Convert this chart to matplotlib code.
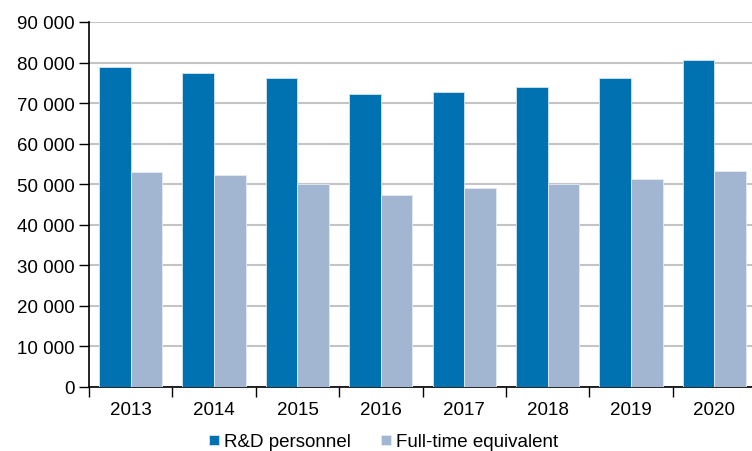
import matplotlib
matplotlib.use("Agg")
import matplotlib.pyplot as plt
import numpy as np
from matplotlib.ticker import FuncFormatter, MultipleLocator

plt.rcParams['font.family'] = ['Liberation Sans', 'DejaVu Sans']

years = ["2013", "2014", "2015", "2016", "2017", "2018", "2019", "2020"]
rd_personnel = [79000, 77500, 76300, 72300, 72700, 73900, 76300, 80600]
full_time_eq = [53000, 52200, 50100, 47400, 49000, 50000, 51400, 53300]

c_dark = "#0071B1"
c_light = "#A2B6D1"
fs = 13.5

fig = plt.figure(figsize=(7.52, 4.52), dpi=100)
ax = fig.add_axes([89/752, (452-388)/452, (756-89)/752, (388-23)/452])

x = np.arange(len(years))
w = 0.38
ax.bar(x - w/2, rd_personnel, w, color=c_dark, edgecolor="#D6E4F0", linewidth=0.6, label="R&D personnel", zorder=3)
ax.bar(x + w/2, full_time_eq, w, color=c_light, edgecolor="#E4EAF2", linewidth=0.6, label="Full-time equivalent", zorder=3)

ax.set_xlim(-0.5, len(years) - 0.5)
ax.set_ylim(0, 90000)
ax.yaxis.set_major_locator(MultipleLocator(10000))
ax.yaxis.set_major_formatter(FuncFormatter(lambda v, p: f"{int(v):,}".replace(",", " ")))
ax.grid(axis="y", color="#C4C4C4", linewidth=1.5, zorder=0)
ax.set_axisbelow(True)

ax.set_xticks(x)
ax.set_xticklabels(years)
ax.set_xticks(np.arange(-0.5, len(years) + 0.5, 1), minor=True)
ax.tick_params(axis="x", which="major", length=0, pad=10, labelsize=fs)
ax.tick_params(axis="x", which="minor", length=7, width=1, direction="out")
ax.tick_params(axis="y", length=7, width=1, direction="out", labelsize=fs, pad=3)

for s in ["top", "right"]:
    ax.spines[s].set_visible(False)
ax.spines["left"].set_linewidth(1.2)
ax.spines["bottom"].set_linewidth(1.2)

leg = fig.legend(loc="center", bbox_to_anchor=(384/752, 1 - 443/452), ncol=2, frameon=False,
                 fontsize=fs, handlelength=0.5, handleheight=0.5, handletextpad=0.3,
                 columnspacing=1.6, borderpad=0)

fig.savefig("out.png", dpi=100)
